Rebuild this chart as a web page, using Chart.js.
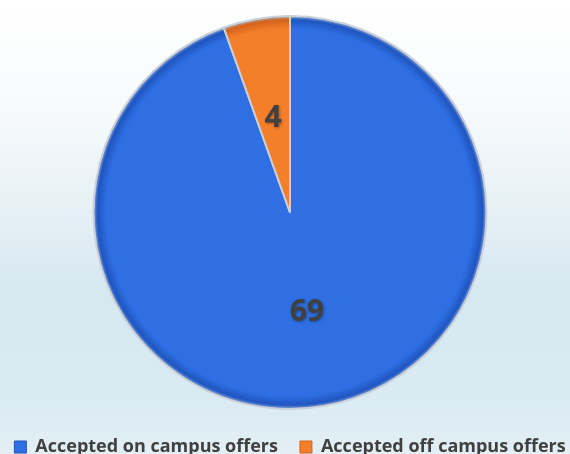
<!DOCTYPE html>
<html>
<head>
<meta charset="utf-8">
<script src="https://cdn.jsdelivr.net/npm/chart.js@4/dist/chart.umd.min.js"></script>
<style>
  html, body { margin: 0; padding: 0; }
  body {
    width: 570px; height: 454px; overflow: hidden;
    background: linear-gradient(to bottom, #ffffff 0%, #f7fafc 25%, #d6e8f0 65%, #d9eaf2 85%, #e2eff5 100%);
  }
  /* canvas a bit wider than the page so the legend stays on one row, centred at x=290 */
  #wrap { width: 600px; height: 466px; margin-left: -10px; }
</style>
</head>
<body>
<div id="wrap"><canvas id="pieChart"></canvas></div>
<script>
// ── Offers pie ──
const categories = ['Accepted on campus offers', 'Accepted off campus offers'];
const offerCounts = [69, 4];
const sliceColors = ['#2f6fe3', '#f47f2a'];
const rimColors = ['#1f55c0', '#d4631a'];

function sliceFill(c) {
  const chart = c.chart, area = chart.chartArea;
  const i = c.dataIndex;
  if (!area) return sliceColors[i];
  const cx = (area.left + area.right) / 2, cy = (area.top + area.bottom) / 2;
  const r = Math.min(area.right - area.left, area.bottom - area.top) / 2;
  const g = chart.ctx.createRadialGradient(cx, cy, 0, cx, cy, r);
  g.addColorStop(0, sliceColors[i]);
  g.addColorStop(0.93, sliceColors[i]);
  g.addColorStop(0.975, rimColors[i]);
  g.addColorStop(1, '#9fb6d8');
  return g;
}

// value labels at the middle of each slice
const valueLabels = {
  id: 'valueLabels',
  afterDatasetsDraw(chart) {
    const ctx = chart.ctx;
    chart.getDatasetMeta(0).data.forEach((arc, i) => {
      const p = arc.tooltipPosition();
      ctx.save();
      ctx.font = 'bold 30px "Open Sans", "Noto Sans", sans-serif';
      ctx.fillStyle = '#404040';
      ctx.textAlign = 'center';
      ctx.textBaseline = 'middle';
      ctx.shadowColor = 'rgba(0,0,0,0.35)';
      ctx.shadowBlur = 3;
      ctx.shadowOffsetX = 1;
      ctx.shadowOffsetY = 1;
      ctx.fillText(offerCounts[i], p.x, p.y + 3);
      ctx.restore();
    });
  }
};

new Chart(document.getElementById('pieChart'), {
  type: 'pie',
  data: {
    labels: categories,
    datasets: [{
      data: offerCounts,
      backgroundColor: sliceFill,
      borderColor: '#c9d0da',
      borderWidth: 2
    }]
  },
  options: {
    responsive: true,
    maintainAspectRatio: false,
    animation: false,
    layout: { padding: { top: 15, left: 0, right: 0, bottom: 0 } },
    plugins: {
      legend: {
        position: 'bottom',
        // blank title only used as a spacer above the items
        title: { display: true, text: ' ', font: { size: 5 }, padding: 0 },
        labels: {
          color: '#404040',
          font: { family: '"Open Sans", "Noto Sans", sans-serif', size: 18, weight: 'bold' },
          usePointStyle: true,
          pointStyle: 'rect',
          boxWidth: 12,
          boxHeight: 12,
          padding: 22,
          generateLabels: chart => categories.map((t, i) => ({
            text: t,
            fillStyle: sliceColors[i],
            strokeStyle: rimColors[i],
            lineWidth: 1,
            pointStyle: 'rect',
            fontColor: '#404040',
            index: i
          }))
        }
      },
      tooltip: { enabled: false }
    }
  },
  plugins: [valueLabels]
});
</script>
</body>
</html>
